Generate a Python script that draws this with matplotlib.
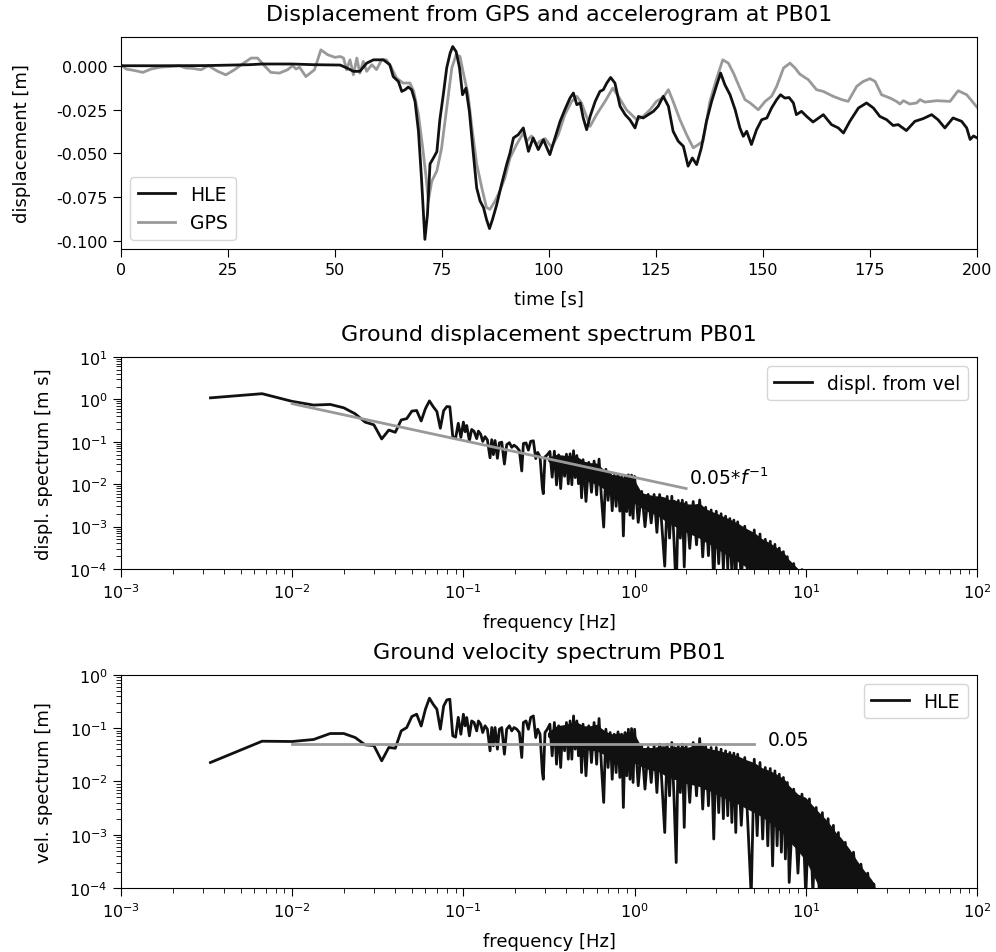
#!/usr/bin/env python3
"""
Displacement from GPS and accelerogram at PB01, with displacement and
velocity spectra. Values read off the reference figure.
"""

import numpy as np
import matplotlib
matplotlib.use("Agg")
import matplotlib.pyplot as plt


# --- time series (s, m) ---------------------------------------------------
TIME_HLE = [0, 10, 20, 30, 33, 40, 45, 50, 51.2, 52.7, 54.3, 55.8, 57.4, 59.0,
            61.3, 62.8, 63.6, 64.8, 65.6, 66.4, 67.1, 67.9, 68.7, 69.5, 70.2,
            71.0, 71.6, 72.2, 73.0, 73.8, 74.5, 75.3, 76.1, 76.9, 77.5, 78.3,
            79.1, 79.8, 80.6, 81.4, 82.2, 83.1, 83.9, 84.7, 85.4, 86.1, 86.8,
            87.8, 88.9, 90.1, 90.9, 91.7, 92.8, 94.0, 95.2, 96.3, 97.5, 98.7,
            99.5, 100.2, 101.4, 102.6, 103.7, 104.9, 105.7, 106.5, 107.3,
            108.0, 108.8, 109.6, 110.8, 111.9, 112.7, 113.5, 114.4, 115.4,
            116.6, 117.8, 118.9, 120.1, 120.9, 122.0, 123.2, 124.4, 125.5,
            126.7, 127.9, 129.0, 130.2, 131.4, 132.5, 133.5, 134.5, 135.6,
            136.8, 138.0, 139.2, 140.1, 141.1, 142.3, 143.5, 144.6, 145.4,
            146.2, 147.3, 148.5, 149.7, 150.9, 152.0, 153.2, 154.1, 155.1,
            156.1, 157.1, 157.8, 159.0, 160.2, 161.7, 164.1, 166.0, 167.6,
            168.8, 170.3, 172.3, 174.2, 175.8, 177.3, 178.9, 180.4, 181.6,
            183.5, 185.5, 187.4, 189.4, 190.9, 192.5, 194.4, 196.4, 197.6,
            198.4, 199.2, 200.0]
DISP_HLE = [0.0002, 0.0002, 0.0003, 0.0008, 0.0012, 0.0012, 0.0008, 0.0006,
            0.0006, -0.001, -0.003, -0.003, 0.0017, 0.0036, 0.0036, 0.0008,
            -0.006, -0.0088, -0.0145, -0.0135, -0.012, -0.0135, -0.0202,
            -0.0373, -0.064, -0.0992, -0.085, -0.056, -0.0526, -0.049,
            -0.0307, -0.0164, -0.001, 0.0074, 0.0112, 0.0083, -0.001,
            -0.0164, -0.0126, -0.026, -0.047, -0.0697, -0.0773, -0.081,
            -0.0878, -0.093, -0.0878, -0.0792, -0.0678, -0.0564, -0.0497,
            -0.0411, -0.0393, -0.0354, -0.0488, -0.0411, -0.0478, -0.0421,
            -0.0468, -0.0507, -0.0411, -0.0316, -0.025, -0.0183, -0.0154,
            -0.0221, -0.0211, -0.0297, -0.0364, -0.0288, -0.0202, -0.0145,
            -0.0135, -0.0097, -0.0065, -0.0097, -0.023, -0.0278, -0.0307,
            -0.0354, -0.0288, -0.0297, -0.0278, -0.0259, -0.023, -0.0173,
            -0.023, -0.0373, -0.043, -0.0459, -0.0573, -0.0526, -0.0564,
            -0.0468, -0.0316, -0.0202, -0.0107, -0.004, -0.0107, -0.0164,
            -0.025, -0.0354, -0.0402, -0.0373, -0.0449, -0.0364, -0.0307,
            -0.0297, -0.024, -0.0192, -0.0164, -0.0183, -0.018, -0.0211,
            -0.0278, -0.0259, -0.0288, -0.032, -0.0278, -0.0335, -0.0354,
            -0.0383, -0.0316, -0.024, -0.0211, -0.024, -0.0288, -0.0307,
            -0.034, -0.0335, -0.0369, -0.0316, -0.0301, -0.0278, -0.0307,
            -0.0354, -0.0297, -0.0316, -0.0354, -0.042, -0.040, -0.0411]

TIME_GPS = [0, 1.2, 3.1, 5.1, 7.0, 9.3, 11.7, 13.6, 15.2, 16.7, 18.7, 20.4,
            22.6, 24.5, 26.5, 28.4, 30.4, 31.9, 33.5, 35.0, 37.0, 38.9, 40.1,
            40.9, 41.7, 43.2, 45.2, 46.7, 48.3, 50.0, 51.2, 52.0, 52.7, 53.5,
            54.3, 55.1, 55.8, 56.6, 57.4, 58.6, 59.7, 60.9, 62.0, 63.2, 64.4,
            65.9, 67.5, 68.4, 69.5, 70.5, 71.3, 71.8, 72.6, 73.8, 74.9, 76.1,
            77.3, 78.3, 79.2, 79.9, 81.1, 81.9, 83.1, 84.3, 85.4, 86.2, 87.4,
            88.5, 89.7, 90.9, 92.4, 94.0, 94.8, 95.9, 97.1, 97.9, 99.1, 100.6,
            102.2, 103.7, 105.3, 106.5, 107.6, 109.6, 111.1, 113.1, 114.9,
            116.2, 118.1, 120.5, 122.0, 123.6, 125.1, 126.7, 127.9, 129.0,
            130.6, 132.1, 133.7, 134.9, 136.0, 137.6, 139.2, 140.6, 141.9,
            143.1, 144.6, 145.8, 147.0, 148.9, 150.5, 152.0, 153.2, 154.8,
            156.3, 157.5, 158.6, 160.6, 162.5, 164.1, 166.4, 168.4, 169.9,
            171.9, 173.4, 175.0, 176.2, 177.7, 179.7, 181.2, 182.0, 182.8,
            184.3, 185.9, 186.7, 187.8, 190.6, 193.7, 195.6, 197.6, 199.8,
            200.0]
DISP_GPS = [0.0008, -0.0017, -0.0025, -0.0036, -0.0017, -0.0006, -0.0002,
            0.0002, -0.0011, -0.0013, -0.0021, 0.0002, -0.003, -0.005,
            -0.0021, 0.0013, 0.0046, 0.0046, 0.0002, -0.0036, -0.004,
            -0.0021, 0.0002, -0.0017, -0.0006, -0.006, -0.0021, 0.0093,
            0.0065, 0.005, 0.0055, 0.0046, -0.0021, 0.0036, -0.005, 0.0046,
            -0.004, 0.0027, -0.003, 0.0008, -0.002, 0.0036, 0.0036, -0.001,
            -0.0069, -0.0097, -0.0097, -0.0145, -0.0278, -0.047, -0.064,
            -0.0773, -0.066, -0.060, -0.047, -0.024, -0.001, 0.0065, 0.0055,
            -0.003, -0.0164, -0.0335, -0.056, -0.0697, -0.081, -0.082,
            -0.0773, -0.0716, -0.064, -0.0526, -0.045, -0.0383, -0.043,
            -0.040, -0.045, -0.043, -0.0415, -0.0465, -0.039, -0.0278,
            -0.0202, -0.0173, -0.0211, -0.0345, -0.0278, -0.0202, -0.0126,
            -0.0173, -0.025, -0.0307, -0.0288, -0.025, -0.0202, -0.0179,
            -0.0135, -0.0202, -0.0307, -0.039, -0.0468, -0.0449, -0.043,
            -0.0202, -0.0069, 0.0036, 0.0017, -0.004, -0.0126, -0.0192,
            -0.0211, -0.025, -0.0202, -0.0173, -0.0116, -0.0011, 0.0017,
            -0.0011, -0.0046, -0.0078, -0.0135, -0.0145, -0.0173, -0.0192,
            -0.0202, -0.0116, -0.0088, -0.0072, -0.0088, -0.0164, -0.0183,
            -0.0202, -0.0217, -0.0198, -0.0217, -0.0211, -0.0192, -0.0206,
            -0.0198, -0.0202, -0.0141, -0.0164, -0.023, -0.0235]

# --- HLE velocity amplitude spectrum (Hz, m) ---------------------------------
FREQ_LOW = [0.00333, 0.00667, 0.01, 0.01333, 0.01667, 0.02, 0.02333, 0.02667,
            0.03, 0.03333, 0.03667, 0.04, 0.04333, 0.04667, 0.05, 0.05333,
            0.05667, 0.06, 0.06333, 0.06667, 0.07, 0.07333, 0.07667, 0.08,
            0.08333, 0.08667, 0.09, 0.09333, 0.09667, 0.1]
VEL_LOW = [0.0227, 0.057, 0.0563, 0.0614, 0.0795, 0.0795, 0.0668, 0.0487,
           0.0473, 0.0244, 0.0435, 0.042, 0.089, 0.103, 0.166, 0.183, 0.11,
           0.227, 0.366, 0.28, 0.227, 0.096, 0.26, 0.34, 0.35, 0.072, 0.068,
           0.16, 0.077, 0.183]

FREQ_MID = [0.1023, 0.1046, 0.1084, 0.1118, 0.1154, 0.1196, 0.1224, 0.1262,
            0.1297, 0.1338, 0.1381, 0.1431, 0.1464, 0.1497, 0.1531, 0.1580,
            0.1622, 0.1675, 0.1736, 0.1790, 0.1856, 0.1916, 0.1976, 0.2049,
            0.2123, 0.2192, 0.2241, 0.2322, 0.2397, 0.2473, 0.2563, 0.2646,
            0.2718, 0.2804, 0.2893, 0.2929, 0.2997, 0.3092]
VEL_MID = [0.111, 0.159, 0.0718, 0.137, 0.128, 0.0891, 0.137, 0.119, 0.083,
           0.111, 0.0958, 0.0376, 0.103, 0.0467, 0.103, 0.0404, 0.0958, 0.103,
           0.0325, 0.0958, 0.111, 0.0891, 0.103, 0.0958, 0.083, 0.0282, 0.128,
           0.137, 0.0958, 0.159, 0.170, 0.0668, 0.0958, 0.0772, 0.0147,
           0.0110, 0.083, 0.0958]

# above ~0.3 Hz the trace is a dense zig-zag: peaks and dips read at nodes
FREQ_HIGH = [0.32, 0.33, 0.34, 0.35, 0.36, 0.37, 0.38, 0.39, 0.40, 0.41, 0.42,
             0.43, 0.44, 0.45, 0.46, 0.47, 0.48, 0.49, 0.50, 0.52, 0.54, 0.56,
             0.58, 0.60, 0.62, 0.64, 0.66, 0.68, 0.70, 0.72, 0.74, 0.76, 0.78,
             0.80, 0.82, 0.84, 0.86, 0.88, 0.90, 0.92, 0.94, 0.96, 0.98, 1.00,
             1.05, 1.10, 1.15, 1.20, 1.25, 1.30, 1.35, 1.40, 1.45, 1.50, 1.55,
             1.60, 1.65, 1.70, 1.75, 1.80, 1.85, 1.90, 1.95, 2.0, 2.1, 2.2,
             2.3, 2.4, 2.5, 2.6, 2.7, 2.8, 2.9, 3.0, 3.1, 3.2, 3.3, 3.4, 3.5,
             3.6, 3.7, 3.8, 3.9, 4.0, 4.2, 4.4, 4.6, 4.8, 5.0, 5.2, 5.4, 5.6,
             5.8, 6.0, 6.2, 6.4, 6.6, 6.8, 7.0, 7.2, 7.4, 7.6, 7.8, 8.0, 8.5,
             9.0, 9.5, 10, 10.5, 11, 11.5, 12, 12.5, 13, 13.5, 14, 14.5, 15,
             15.5, 16, 17, 18, 19, 20, 21, 22, 23, 24, 25, 26]
VEL_HIGH = [0.119, 0.0303, 0.128, 0.0211, 0.111, 0.0183, 0.103, 0.0376, 0.128,
            0.0262, 0.137, 0.0262, 0.170, 0.0404, 0.137, 0.0303, 0.111, 0.0147,
            0.119, 0.0128, 0.111, 0.0227, 0.128, 0.0211, 0.152, 0.0196,
            0.00404, 0.0958, 0.0183, 0.083, 0.0110, 0.0772, 0.0147, 0.0853,
            0.0119, 0.0772, 0.00325, 0.083, 0.0128, 0.0958, 0.0110, 0.0986,
            0.00957, 0.0958, 0.0083, 0.0467, 0.00718, 0.0434, 0.00957, 0.0467,
            0.0062, 0.0501, 0.00718, 0.0011, 0.0501, 0.00538, 0.0539, 0.0047,
            0.00030, 0.0467, 0.0062, 0.0501, 0.00137, 0.0467, 0.00404, 0.0539,
            0.00538, 0.0640, 0.00303, 0.0467, 0.0035, 0.0434, 0.00083, 0.0434,
            0.0026, 0.0404, 0.0020, 0.0376, 0.00227, 0.0350, 0.0017, 0.0340,
            0.0011, 0.0325, 0.0015, 0.0282, 0.00127, 0.00007, 0.0262, 0.00096,
            0.0227, 0.00083, 0.0183, 0.00062, 0.0175, 0.00026, 0.0158, 0.00062,
            0.0137, 0.00047, 0.0119, 0.00035, 0.00957, 0.000127, 0.00718,
            0.00019, 0.00578, 0.00007, 0.0047, 0.00008, 0.00325, 0.00007,
            0.0026, 0.00007, 0.0020, 0.00007, 0.0015, 0.00007, 0.0011, 0.00007,
            0.00072, 0.00006, 0.00047, 0.00006, 0.00028, 0.00005, 0.00019,
            0.00005, 0.000118, 0.000035]

# solid body of the dense trace (upper / lower edge of the black band)
BAND_FREQ = [0.31, 0.35, 0.40, 0.45, 0.50, 0.55, 0.60, 0.65, 0.70, 0.75,
             0.80, 0.85, 0.90, 0.95, 1.0, 1.1, 1.2, 1.3, 1.4, 1.5, 1.6, 1.7,
             1.8, 1.9, 2.0, 2.2, 2.4, 2.6, 2.8, 3.0, 3.3, 3.6, 4.0, 4.5, 5.0,
             5.5, 6.0, 6.5, 7.0, 7.5, 8.0, 9.0, 10, 11, 12, 13, 14, 15, 16,
             18, 20, 22, 24, 25]
BAND_TOP = [0.083, 0.111, 0.119, 0.137, 0.111, 0.111, 0.119, 0.0958, 0.083,
            0.0772, 0.083, 0.0772, 0.083, 0.0891, 0.0772, 0.0434, 0.0434,
            0.0434, 0.0467, 0.0467, 0.0434, 0.0467, 0.0434, 0.0467, 0.0434,
            0.0467, 0.0539, 0.0434, 0.0404, 0.0393, 0.0361, 0.0340, 0.0303,
            0.0255, 0.0227, 0.0183, 0.0166, 0.0147, 0.0128, 0.0110, 0.0083,
            0.00578, 0.0050, 0.0035, 0.0026, 0.0020, 0.0015, 0.0011, 0.00089,
            0.00054, 0.00032, 0.00021, 0.00015, 0.000124]
BAND_BOT = [0.07, 0.05, 0.05, 0.05, 0.042, 0.038, 0.038, 0.033, 0.030, 0.028,
            0.027, 0.025, 0.025, 0.024, 0.022, 0.019, 0.017, 0.016, 0.015,
            0.013, 0.012, 0.011, 0.0105, 0.0098, 0.0092, 0.0086, 0.0080,
            0.0070, 0.0065, 0.0057, 0.0050, 0.0043, 0.0038, 0.0031, 0.0026,
            0.0022, 0.0018, 0.0015, 0.0012, 0.0010, 0.00075, 0.00050, 0.00032,
            0.00018, 0.00010, 0.00007, 0.00005, 0.00005, 0.00005, 0.00005,
            0.00005, 0.00005, 0.00005, 0.00005]

# guide lines drawn in grey
GUIDE_DISP_F = [0.01, 2.0]
GUIDE_DISP_A = [0.79, 0.0079]
GUIDE_VEL_F = [0.01, 5.0]
GUIDE_VEL_A = [0.05, 0.05]

BLACK = "#111111"
GREY = "#999999"


def main():
    plt.rcParams["font.size"] = 11.5
    plt.rcParams["axes.labelsize"] = 13
    plt.rcParams["axes.titlesize"] = 16
    plt.rcParams["axes.titlepad"] = 12
    plt.rcParams["legend.fontsize"] = 13.5
    plt.rcParams["xtick.major.size"] = 6
    plt.rcParams["ytick.major.size"] = 6
    plt.rcParams["xtick.minor.size"] = 3.5
    plt.rcParams["ytick.minor.size"] = 3.5

    freq = np.array(FREQ_LOW + FREQ_MID + FREQ_HIGH, dtype=float)
    vel = np.array(VEL_LOW + VEL_MID + VEL_HIGH, dtype=float)
    # displacement spectrum obtained from the velocity spectrum
    disp = vel / (2.0 * np.pi * freq)

    band_f = np.array(BAND_FREQ, dtype=float)
    omega = 2.0 * np.pi * band_f
    band_top = np.array(BAND_TOP, dtype=float)
    band_bot = np.array(BAND_BOT, dtype=float)

    fig = plt.figure(figsize=(9.96, 9.53), dpi=100)
    ax1 = fig.add_axes([0.1215, 0.7377, 0.8594, 0.2225])
    ax2 = fig.add_axes([0.1215, 0.4019, 0.8594, 0.2225])
    ax3 = fig.add_axes([0.1215, 0.0672, 0.8594, 0.2235])

    # top: time series
    ax1.plot(TIME_HLE, DISP_HLE, color=BLACK, lw=2.0, label="HLE", zorder=3)
    ax1.plot(TIME_GPS, DISP_GPS, color=GREY, lw=2.0, label="GPS", zorder=2)
    ax1.set_xlim(0, 200)
    ax1.set_ylim(-0.1047, 0.0167)
    ax1.set_xticks([0, 25, 50, 75, 100, 125, 150, 175, 200])
    ax1.set_yticks([-0.100, -0.075, -0.050, -0.025, 0.000])
    ax1.set_yticklabels(["-0.100", "-0.075", "-0.050", "-0.025", "0.000"])
    ax1.set_xlabel("time [s]", labelpad=9)
    ax1.set_ylabel("displacement [m]", labelpad=18)
    ax1.set_title("Displacement from GPS and accelerogram at PB01")
    ax1.legend(loc="lower left")

    # middle: displacement spectrum
    ax2.fill_between(band_f, band_bot / omega, band_top / omega,
                     color=BLACK, lw=0)
    ax2.loglog(freq, disp, color=BLACK, lw=2.0, label="displ. from vel")
    ax2.loglog(GUIDE_DISP_F, GUIDE_DISP_A, color=GREY, lw=2.0)
    ax2.text(2.08, 0.0148, r"0.05*$f^{-1}$", fontsize=13.5, va="center", ha="left")
    ax2.set_xlim(1e-3, 1e2)
    ax2.set_ylim(1e-4, 1e1)
    ax2.set_xlabel("frequency [Hz]", labelpad=9)
    ax2.set_ylabel("displ. spectrum [m s]", labelpad=12)
    ax2.set_title("Ground displacement spectrum PB01")
    ax2.legend(loc="upper right")

    # bottom: velocity spectrum
    ax3.fill_between(band_f, band_bot, band_top, color=BLACK, lw=0)
    ax3.loglog(freq, vel, color=BLACK, lw=2.0, label="HLE")
    ax3.loglog(GUIDE_VEL_F, GUIDE_VEL_A, color=GREY, lw=2.0)
    ax3.text(6.0, 0.062, "0.05", fontsize=13.5, va="center", ha="left")
    ax3.set_xlim(1e-3, 1e2)
    ax3.set_ylim(1e-4, 1e0)
    ax3.set_xlabel("frequency [Hz]", labelpad=9)
    ax3.set_ylabel("vel. spectrum [m]", labelpad=12)
    ax3.set_title("Ground velocity spectrum PB01")
    ax3.legend(loc="upper right")

    fig.savefig("out.png", dpi=100)
    plt.close(fig)


if __name__ == "__main__":
    main()
